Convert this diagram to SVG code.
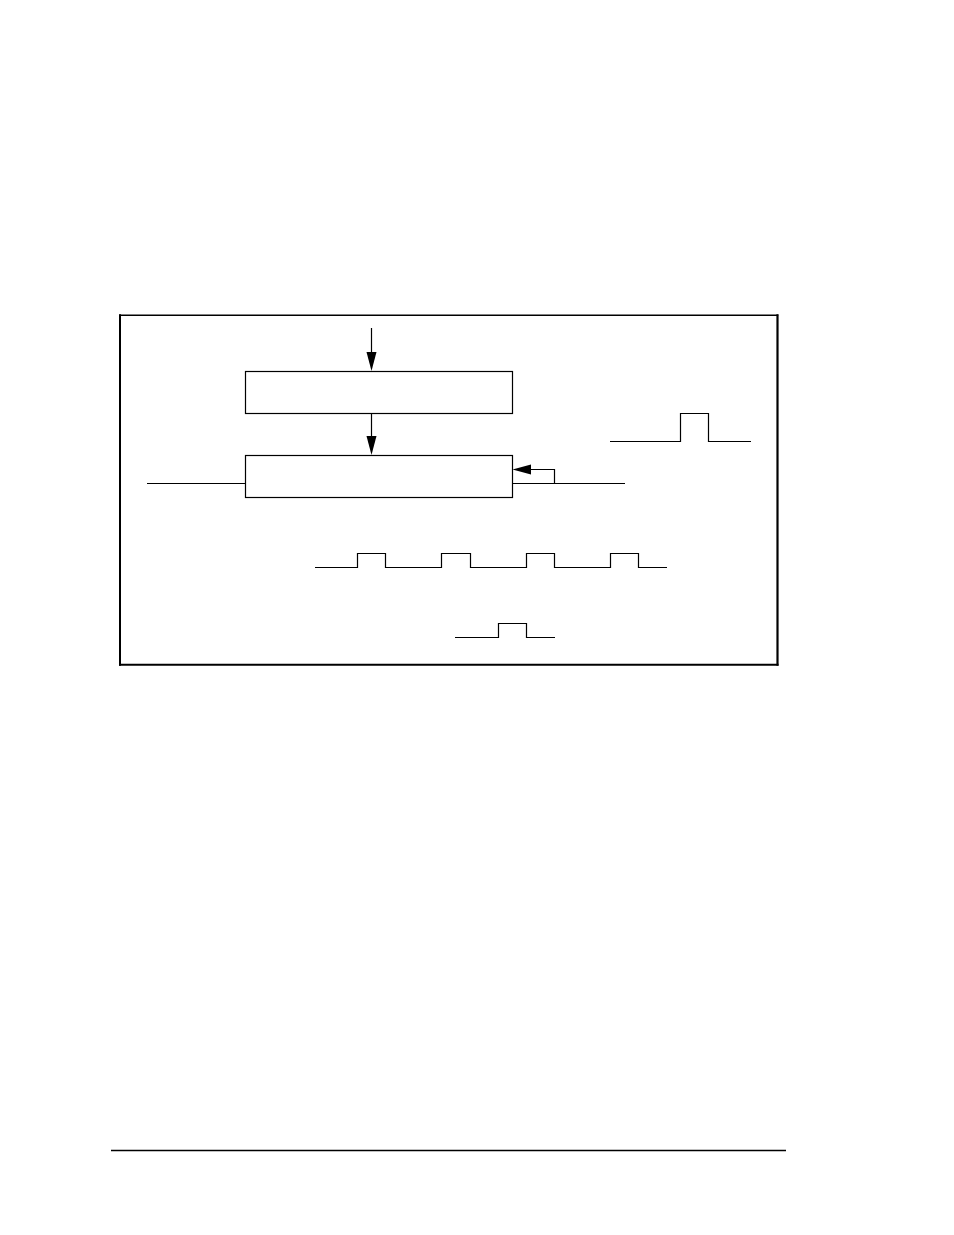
<svg xmlns="http://www.w3.org/2000/svg" width="954" height="1235" viewBox="0 0 954 1235">
<style>
.ln{fill:none;stroke:#000;stroke-width:1.2}
.bx{fill:#fff;stroke:#000;stroke-width:1.2}
.ah{fill:#000;stroke:none}
.fr{stroke:#000;stroke-linecap:square}
</style>
<rect width="954" height="1235" fill="#fff"/>
<g id="frame">
<line class="fr" x1="120" y1="315.3" x2="777.5" y2="315.3" stroke-width="1.4"/>
<line class="fr" x1="120" y1="315.3" x2="120" y2="664.7" stroke-width="2"/>
<line class="fr" x1="777.5" y1="315.3" x2="777.5" y2="664.7" stroke-width="2.2"/>
<line class="fr" x1="120" y1="664.7" x2="777.5" y2="664.7" stroke-width="2"/>
</g>
<g id="connectors">
<line class="ln" x1="371.5" y1="328" x2="371.5" y2="353"/>
<polygon class="ah" points="366.5,352 376.5,352 371.5,371"/>
<line class="ln" x1="371.5" y1="413" x2="371.5" y2="437"/>
<polygon class="ah" points="366.5,436 376.5,436 371.5,455"/>
<line class="ln" x1="147" y1="483.5" x2="245" y2="483.5"/>
<polyline class="ln" points="529,469.5 554.5,469.5 554.5,483.5"/>
<polygon class="ah" points="512.5,469.5 531,464.5 531,474.5"/>
<line class="ln" x1="512" y1="483.5" x2="625" y2="483.5"/>
</g>
<g id="box1"><rect class="bx" x="245.5" y="371.5" width="267" height="42"/></g>
<g id="box2"><rect class="bx" x="245.5" y="455.5" width="267" height="42"/></g>
<g id="pulse1"><polyline class="ln" points="610,441.5 680.5,441.5 680.5,413.5 708.5,413.5 708.5,441.5 751,441.5"/></g>
<g id="pulsetrain"><polyline class="ln" points="315,567.5 357.5,567.5 357.5,553.5 385.5,553.5 385.5,567.5 441.5,567.5 441.5,553.5 470.5,553.5 470.5,567.5 526.5,567.5 526.5,553.5 554.5,553.5 554.5,567.5 610.5,567.5 610.5,553.5 638.5,553.5 638.5,567.5 667,567.5"/></g>
<g id="pulse2"><polyline class="ln" points="455,637.5 498.5,637.5 498.5,623.5 526.5,623.5 526.5,637.5 555,637.5"/></g>
<line id="footer" x1="111" y1="1150.5" x2="786" y2="1150.5" stroke="#000" stroke-width="1.5"/>
</svg>
